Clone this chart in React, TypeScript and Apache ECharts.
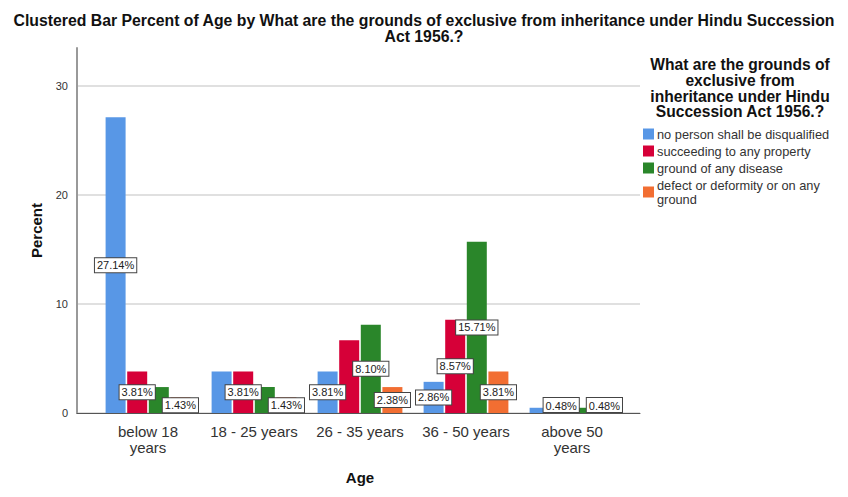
import React, { useEffect, useRef } from "react";
import * as echarts from "echarts";

// Age groups on the category axis
const categories = ["below 18\nyears", "18 - 25 years", "26 - 35 years", "36 - 50 years", "above 50\nyears"];

// Response groups (legend entries)
const seriesNames = [
  "no person shall be disqualified",
  "succeeding to any property",
  "ground of any disease",
  "defect or deformity or on any ground",
];

// Percent of all respondents, per age group
const noPersonDisqualified = [27.14, 3.81, 3.81, 2.86, 0.48];
const succeedingProperty = [3.81, 3.81, 6.67, 8.57, 0.48];
const groundDisease = [2.38, 2.38, 8.1, 15.71, 0.48];
const defectDeformity = [1.43, 1.43, 2.38, 3.81, 0.48];

// Which bar labels are printed (the rest are hidden by neighbouring labels)
const labelShownBlue = [true, false, true, true, false];
const labelShownRed = [true, true, false, true, true];
const labelShownGreen = [false, false, true, true, false];
const labelShownOrange = [true, true, true, true, true];

const yTicks = [0, 10, 20, 30];
const yMax = 33.5;

const colors = ["#5897E6", "#D60038", "#2A862A", "#F26E32"];

const legendTitle = "What are the grounds of\nexclusive from\ninheritance under Hindu\nSuccession Act 1956.?";
const chartTitle =
  "Clustered Bar Percent of Age by What are the grounds of exclusive from inheritance under Hindu Succession\nAct 1956.?";

const FONT = "'Liberation Sans', Arial, sans-serif";

export default function App() {
  const ref = useRef<HTMLDivElement>(null);

  useEffect(() => {
    document.body.style.margin = "0";
    if (!ref.current) return;
    const chart = echarts.init(ref.current, undefined, { renderer: "svg" });

    const values = [noPersonDisqualified, succeedingProperty, groundDisease, defectDeformity];
    const shown = [labelShownBlue, labelShownRed, labelShownGreen, labelShownOrange];

    const series = seriesNames.map((name, si) => ({
      name,
      type: "bar",
      xAxisIndex: 1,
      yAxisIndex: 1,
      barWidth: 20,
      barGap: "8%",
      itemStyle: { color: colors[si] },
      data: values[si].map((v, ci) => ({
        value: v,
        label: {
          show: shown[si][ci],
          position: v < 1 ? "insideBottom" : "inside",
          distance: 1,
        },
      })),
      label: {
        formatter: (p: any) => Number(p.value).toFixed(2) + "%",
        fontFamily: FONT,
        fontSize: 11,
        color: "#222",
        backgroundColor: "#fff",
        borderColor: "#444",
        borderWidth: 1,
        padding: [2, 2, 1, 2],
      },
    }));

    chart.setOption({
      animation: false,
      backgroundColor: "#fff",
      textStyle: { fontFamily: FONT },
      title: {
        text: chartTitle,
        left: "center",
        top: 7,
        textStyle: {
          fontFamily: FONT,
          fontSize: 15.8,
          fontWeight: "bold",
          color: "#111",
          lineHeight: 16,
          align: "center",
        },
      },
      legend: {
        orient: "vertical",
        left: 643,
        top: 127,
        padding: 0,
        itemWidth: 11,
        itemHeight: 11,
        itemGap: 3,
        icon: "rect",
        data: seriesNames,
        formatter: (n: string) => n.replace("on any ground", "on any\nground"),
        textStyle: { fontFamily: FONT, fontSize: 12.8, color: "#333", lineHeight: 14, padding: [0, 0, 0, -2] },
      },
      graphic: [
        {
          type: "text",
          x: 740,
          y: 57,
          style: {
            text: legendTitle,
            textAlign: "center",
            textVerticalAlign: "top",
            font: `bold 15.6px ${FONT}`,
            lineHeight: 15.7,
            fill: "#111",
          },
        },
      ],
      grid: [
        { left: 77, right: 208, top: 48, bottom: 84 },
        { left: 95, right: 223, top: 48, bottom: 84 },
      ],
      xAxis: [
        {
          gridIndex: 0,
          type: "value",
          min: 0,
          max: 1,
          axisLine: { show: true, onZero: false, lineStyle: { color: "#555", width: 1 } },
          axisTick: { show: false },
          axisLabel: { show: false },
          splitLine: { show: false },
        },
        {
          gridIndex: 1,
          type: "category",
          data: categories,
          axisLine: { show: false },
          axisTick: { show: false },
          axisLabel: {
            fontFamily: FONT,
            fontSize: 15,
            color: "#333",
            lineHeight: 16,
            margin: 10,
            interval: 0,
          },
          name: "Age",
          nameLocation: "middle",
          nameGap: 57,
          nameTextStyle: { fontFamily: FONT, fontSize: 15, fontWeight: "bold", color: "#111" },
        },
      ],
      yAxis: [
        {
          gridIndex: 0,
          type: "value",
          min: yTicks[0],
          max: yMax,
          interval: yTicks[1] - yTicks[0],
          axisLine: { show: true, lineStyle: { color: "#999", width: 2 } },
          axisTick: { show: false },
          axisLabel: { fontFamily: FONT, fontSize: 11, color: "#333", margin: 9, showMaxLabel: false },
          splitLine: { show: true, showMaxLine: false, lineStyle: { color: "#d6d6d6", width: 1.5 } },
          name: "Percent",
          nameLocation: "middle",
          nameRotate: 90,
          nameGap: 33,
          nameTextStyle: { fontFamily: FONT, fontSize: 15, fontWeight: "bold", color: "#111" },
        },
        {
          gridIndex: 1,
          type: "value",
          min: yTicks[0],
          max: yMax,
          show: false,
          splitLine: { show: false },
        },
      ],
      series,
    });

    return () => chart.dispose();
  }, []);

  return <div ref={ref} style={{ width: 848, height: 497 }} />;
}
